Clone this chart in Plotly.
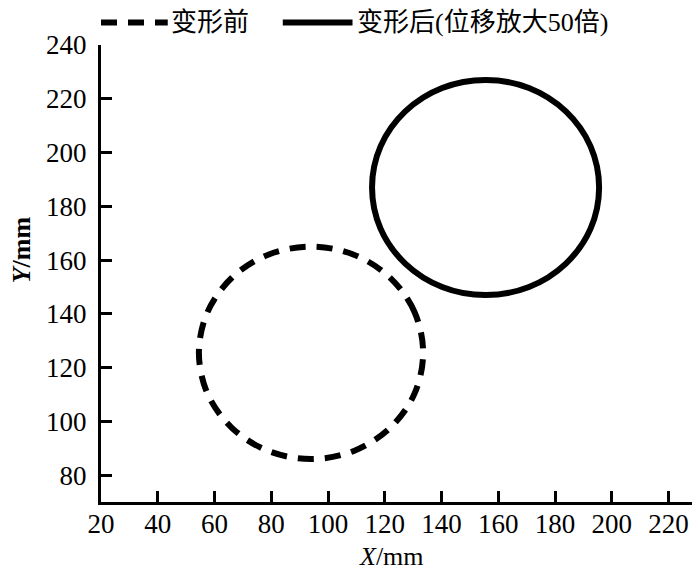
import plotly.graph_objects as go

# Points read around each outline (mm)
before_x = [133.5, 130.5, 121.9, 109.1, 94.0, 78.9, 66.1, 57.5, 54.5, 57.5, 66.1, 78.9, 94.0, 109.1, 121.9, 130.5, 133.5]
before_y = [125.5, 140.6, 153.4, 162.0, 165.0, 162.0, 153.4, 140.6, 125.5, 110.4, 97.6, 89.0, 86.0, 89.0, 97.6, 110.4, 125.5]

after_x = [195.5, 192.5, 183.8, 170.8, 155.5, 140.2, 127.2, 118.5, 115.5, 118.5, 127.2, 140.2, 155.5, 170.8, 183.8, 192.5, 195.5]
after_y = [187.0, 202.3, 215.3, 224.0, 227.0, 224.0, 215.3, 202.3, 187.0, 171.7, 158.7, 150.0, 147.0, 150.0, 158.7, 171.7, 187.0]

x_ticks = [20, 40, 60, 80, 100, 120, 140, 160, 180, 200, 220]
y_ticks = [80, 100, 120, 140, 160, 180, 200, 220, 240]

names = ["变形前", "变形后(位移放大50倍)"]
x_title = "<i>X</i>/mm"
y_title = "<b><i>Y</i>/mm</b>"
dash_before = "16px,11px"
LW = 6

fig = go.Figure()
fig.add_trace(go.Scatter(x=before_x, y=before_y, mode="lines", name=names[0], showlegend=False,
                         line=dict(color="black", width=LW, dash=dash_before, shape="spline", smoothing=1.0)))
fig.add_trace(go.Scatter(x=after_x, y=after_y, mode="lines", name=names[1], showlegend=False,
                         line=dict(color="black", width=LW, shape="spline", smoothing=1.0)))

serif = "Liberation Serif, Times New Roman, serif"
tick_font = dict(family=serif, size=27, color="black")
title_font = dict(family=serif, size=26, color="black")
leg_font = dict(family="Liberation Serif, Noto Sans CJK SC", size=26, color="black")

# manual legend (paper coordinates)
leg_y = 1.049
fig.add_shape(type="line", xref="paper", yref="paper", x0=0.0, x1=0.112, y0=leg_y, y1=leg_y,
              line=dict(color="black", width=LW, dash=dash_before))
fig.add_shape(type="line", xref="paper", yref="paper", x0=0.305, x1=0.422, y0=leg_y, y1=leg_y,
              line=dict(color="black", width=LW))
fig.add_annotation(xref="paper", yref="paper", x=0.114, y=leg_y, xanchor="left", yanchor="middle",
                   text=names[0], showarrow=False, font=leg_font)
fig.add_annotation(xref="paper", yref="paper", x=0.426, y=leg_y, xanchor="left", yanchor="middle",
                   text=names[1], showarrow=False, font=leg_font)

# axis titles
fig.add_annotation(xref="paper", yref="paper", x=0.488, y=-0.12, xanchor="center", yanchor="middle",
                   text=x_title, showarrow=False, font=title_font)
fig.add_annotation(xref="paper", yref="paper", x=-0.134, y=0.551, xanchor="center", yanchor="middle",
                   text=y_title, showarrow=False, font=title_font, textangle=-90)

# page body has an 8px margin, so the figure is 692x562
fig.update_layout(
    width=692, height=562,
    margin=dict(l=93, r=3, t=37, b=68),
    plot_bgcolor="white", paper_bgcolor="white",
    font=tick_font,
    showlegend=False,
    xaxis=dict(range=[20, 230], tickvals=x_ticks, ticks="inside", ticklen=11, tickwidth=2.5,
               tickcolor="black", showline=True, linecolor="black", linewidth=3,
               showgrid=False, zeroline=False, mirror=False, automargin=False,
               tickfont=tick_font, ticklabelstandoff=-4),
    yaxis=dict(range=[70, 240], tickvals=y_ticks, ticks="inside", ticklen=11, tickwidth=2.5,
               tickcolor="black", showline=True, linecolor="black", linewidth=3,
               showgrid=False, zeroline=False, mirror=False, automargin=False,
               tickfont=tick_font, ticklabelstandoff=6),
)

fig.write_html("out.html")
